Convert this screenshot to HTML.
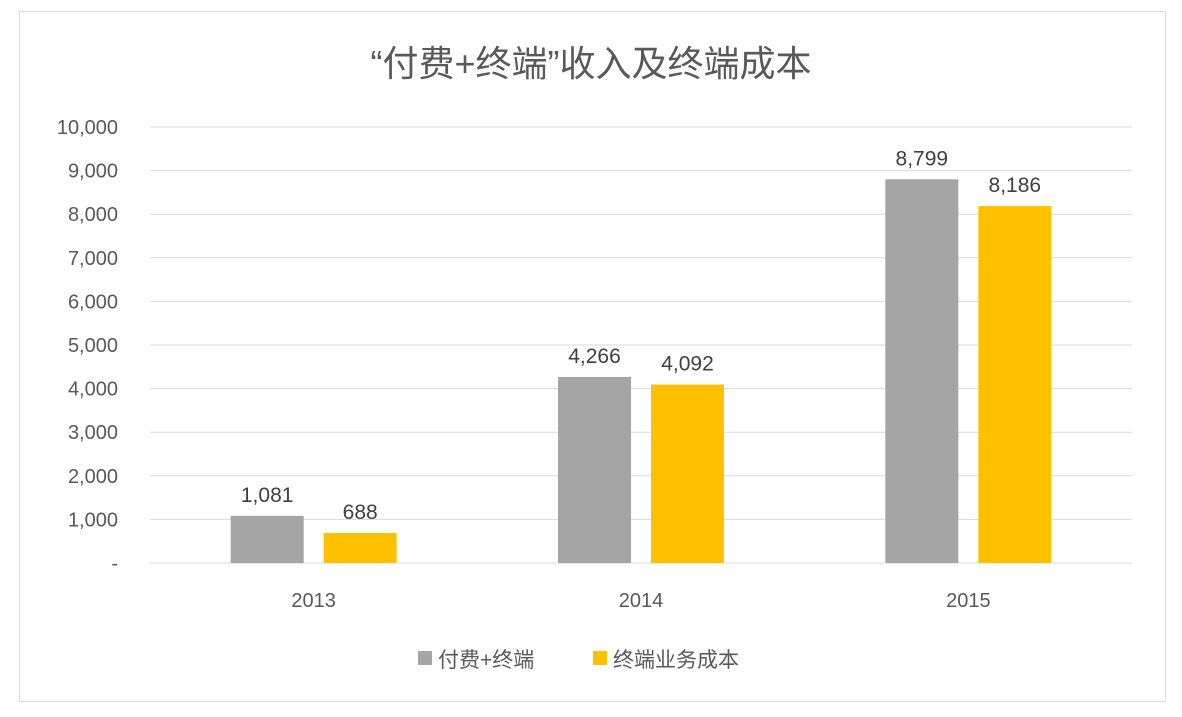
<!DOCTYPE html>
<html><head><meta charset="utf-8"><style>
body{margin:0;background:#fff;}
svg{display:block;font-family:"Liberation Sans","Noto Sans CJK SC",sans-serif;}
</style></head><body>
<svg id="chart" width="1182" height="717">
<rect x="0" y="0" width="1182" height="717" fill="#fff"/>
<rect x="19.5" y="11.5" width="1146" height="690" fill="#fff" stroke="#d9d9d9"/>
<text x="591" y="76" text-anchor="middle" font-size="36" fill="#595959">“付费+终端”收入及终端成本</text>
<g id="grid"></g><g id="bars"></g><g id="labels"></g>
<g>
<rect x="418" y="651" width="14" height="14" fill="#a5a5a5"/>
<text x="438" y="667" font-size="21" fill="#595959">付费+终端</text>
<rect x="593" y="651" width="14" height="14" fill="#ffc000"/>
<text x="613" y="667" font-size="21" fill="#595959">终端业务成本</text>
</g>
</svg>
<script>
const categories=["2013","2014","2015"];
const revenue=[1081,4266,8799];
const cost=[688,4092,8186];
const ticks=[0,1000,2000,3000,4000,5000,6000,7000,8000,9000,10000];
const ns="http://www.w3.org/2000/svg";
const x0=150,x1=1132,y0=563,yTop=127,maxV=10000;
const yS=v=>y0-(v/maxV)*(y0-yTop);
const bw=(x1-x0)/categories.length;
const xC=i=>x0+bw*(i+0.5);
function mk(t,a,p){const e=document.createElementNS(ns,t);for(const k in a)e.setAttribute(k,a[k]);p.appendChild(e);return e;}
const fmt=v=>v===0?"-":v.toLocaleString("en-US");
const g=document.getElementById("grid");
ticks.forEach(v=>{
const l=mk("line",{x1:x0,x2:x1,y1:yS(v),y2:yS(v),stroke:"#d9d9d9","stroke-width":1},g);


const t=mk("text",{x:118,y:yS(v)+7,"text-anchor":"end","font-size":20,fill:"#595959"},g);
t.textContent=fmt(v);


});
const b=document.getElementById("bars"),lb=document.getElementById("labels");
const W=73,gap=20;
categories.forEach((c,i)=>{
[[revenue,"#a5a5a5",-1],[cost,"#ffc000",0]].forEach(([s,col,o],k)=>{
const x=xC(i)+(k===0?-(W+gap/2):gap/2);
const r=mk("rect",{x:x,y:yS(s[i]),width:W,height:y0-yS(s[i]),fill:col},b);


const t=mk("text",{x:x+W/2,y:yS(s[i])-14,"text-anchor":"middle","font-size":21,fill:"#404040"},lb);
t.textContent=fmt(s[i]);


});
const t=mk("text",{x:xC(i),y:607,"text-anchor":"middle","font-size":20,fill:"#595959"},lb);
t.textContent=c;


});
</script>
</body></html>
